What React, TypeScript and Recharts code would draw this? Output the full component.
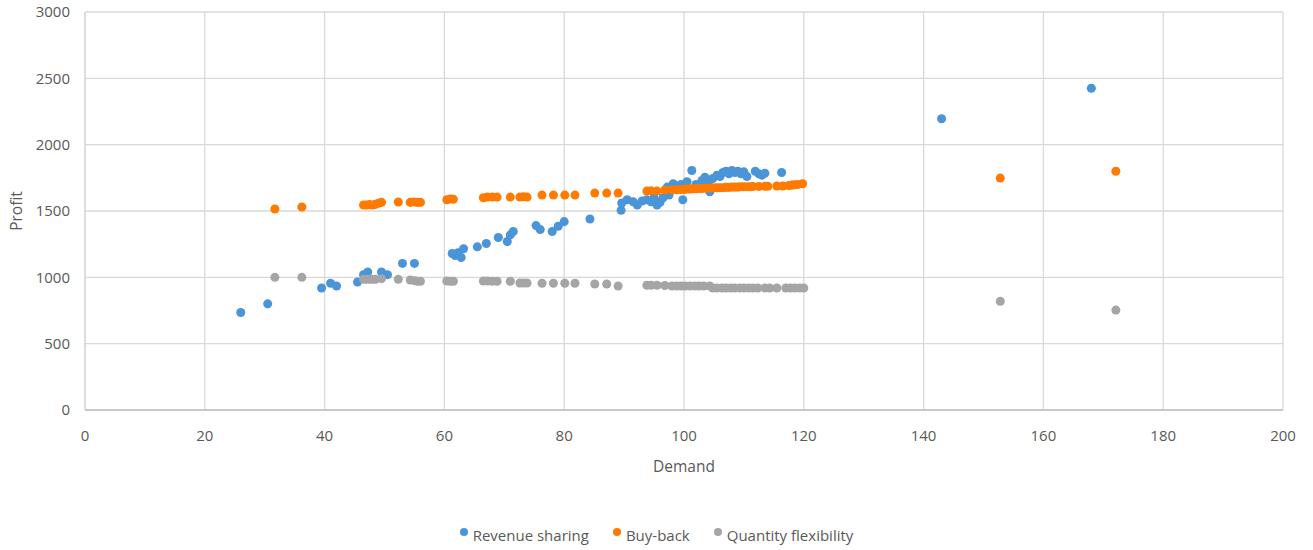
import React from 'react';
import { ScatterChart, Scatter, XAxis, YAxis, ZAxis, CartesianGrid, Label } from 'recharts';

const xTicks = [0, 20, 40, 60, 80, 100, 120, 140, 160, 180, 200];
const yTicks = [0, 500, 1000, 1500, 2000, 2500, 3000];

const revenueSharing: [number, number][] = [
  [26, 735], [30.5, 800], [39.5, 920], [41, 955], [42, 935], [45.5, 965], [46.5, 1020], [47.2, 1040],
  [49.5, 1040], [50.5, 1020], [53, 1105], [55, 1105], [61.3, 1180], [61.8, 1165], [62.3, 1185],
  [62.8, 1150], [63.2, 1215], [65.5, 1230], [67, 1255], [69, 1300], [70.5, 1270], [71, 1320],
  [71.5, 1345], [75.3, 1390], [76, 1360], [78, 1345], [79, 1385], [80, 1420], [84.3, 1440],
  [89.5, 1505], [89.6, 1560], [90.5, 1585], [91.5, 1570], [92.2, 1545], [93, 1575], [93.8, 1585],
  [94.5, 1570], [95, 1600], [95.5, 1545], [96, 1565], [96.5, 1600], [97.2, 1680], [97.5, 1620],
  [98.2, 1705], [98.8, 1680], [99.5, 1700], [99.8, 1585], [100.5, 1720], [101.3, 1805], [102, 1700],
  [103, 1730], [103.5, 1755], [104, 1710], [104.3, 1645], [104.8, 1745], [105.5, 1770], [106, 1760],
  [106.5, 1790], [107, 1800], [107.5, 1780], [108, 1805], [108.5, 1790], [109, 1800], [109.5, 1780],
  [110, 1795], [110.5, 1760], [111.9, 1800], [112.5, 1780], [113, 1770], [113.5, 1785], [116.3, 1790],
  [143, 2195], [168, 2425],
];

const buyBack: [number, number][] = [
  [31.7, 1515], [36.2, 1530], [46.5, 1545], [47, 1545], [47.5, 1548], [48, 1545], [48.5, 1550],
  [49, 1558], [49.5, 1565], [52.3, 1568], [54.3, 1565], [55, 1568], [55.5, 1565], [56, 1565],
  [60.4, 1585], [61, 1590], [61.5, 1588], [66.5, 1600], [67.2, 1605], [68, 1605], [68.8, 1605],
  [71, 1605], [72.6, 1605], [73.2, 1608], [73.8, 1605], [76.3, 1620], [78.2, 1620], [80.1, 1620],
  [81.8, 1620], [85.1, 1635], [87.1, 1635], [89, 1635], [93.8, 1650], [94.5, 1652], [95.5, 1650],
  [96.8, 1658], [98, 1660], [98.8, 1660], [99.5, 1662], [100, 1662], [100.5, 1665], [101, 1665],
  [101.5, 1668], [102, 1668], [102.5, 1670], [103, 1670], [103.5, 1672], [104, 1672], [104.5, 1674],
  [105, 1675], [105.5, 1675], [106, 1676], [106.5, 1676], [107, 1678], [107.5, 1678], [108, 1680],
  [108.5, 1680], [109, 1680], [109.5, 1682], [110, 1682], [110.5, 1683], [111, 1683], [111.5, 1684],
  [112.5, 1685], [113.5, 1686], [114, 1686], [115.5, 1688], [116.5, 1688], [117.5, 1692], [118, 1695],
  [118.5, 1698], [119, 1700], [119.8, 1705], [152.8, 1748], [172.1, 1800],
];

const quantityFlexibility: [number, number][] = [
  [31.7, 1000], [36.2, 1000], [46.5, 985], [47, 985], [47.5, 985], [48, 985], [48.5, 985],
  [49.5, 990], [52.3, 985], [54.3, 980], [55, 975], [55.5, 970], [56, 970], [60.4, 972], [61, 970],
  [61.5, 970], [66.5, 972], [67.2, 972], [68, 970], [68.8, 970], [71, 970], [72.6, 957], [73.2, 957],
  [73.8, 957], [76.3, 955], [78.2, 955], [80.1, 955], [81.8, 955], [85.1, 950], [87.1, 950],
  [89, 935], [93.8, 940], [94.5, 940], [95.5, 940], [96.8, 938], [98, 935], [98.8, 935], [99.5, 935],
  [100.2, 935], [101, 935], [101.8, 935], [102.5, 935], [103.3, 935], [104.3, 935], [104.8, 920],
  [105.5, 920], [106.3, 920], [107, 920], [107.8, 920], [108.5, 920], [109.3, 920], [110, 920],
  [110.8, 920], [111.5, 920], [112.3, 920], [113.5, 920], [114.3, 920], [115.5, 920], [117, 920],
  [117.8, 920], [118.5, 920], [119.3, 920], [120, 920], [152.8, 820], [172.1, 753],
];

const seriesNames = ['Revenue sharing', 'Buy-back', 'Quantity flexibility'];
const seriesColors = ['#4A94D8', '#FF7A00', '#A5A5A5'];
const seriesData = [revenueSharing, buyBack, quantityFlexibility];

const FONT = '"Open Sans", "Liberation Sans", sans-serif';
const TEXT = '#595959';

const toPoints = (arr: [number, number][]) => arr.map(([x, y]) => ({ x, y }));

export default function App() {
  return (
    <div style={{ position: 'absolute', left: 0, top: 0, width: 1313, height: 550, background: '#fff', fontFamily: FONT }}>
      <ScatterChart width={1313} height={550} margin={{ top: 12, right: 30, left: 0, bottom: 70 }}>
        <CartesianGrid stroke="#d9d9d9" strokeWidth={1.3} />
        <XAxis
          type="number"
          dataKey="x"
          domain={[0, 200]}
          ticks={xTicks}
          tickLine={false}
          tickSize={0}
          tickMargin={20}
          height={70}
          axisLine={{ stroke: '#c8c8c8', strokeWidth: 2 }}
          tick={{ fontFamily: FONT, fontSize: 15, fill: TEXT }}
        >
          <Label value="Demand" position="insideBottom" offset={8} style={{ fontFamily: FONT, fontSize: 15.5, fill: TEXT }} />
        </XAxis>
        <YAxis
          type="number"
          dataKey="y"
          domain={[0, 3000]}
          ticks={yTicks}
          tickLine={false}
          tickSize={0}
          tickMargin={15}
          width={85}
          axisLine={{ stroke: '#d9d9d9', strokeWidth: 1.3 }}
          tick={{ fontFamily: FONT, fontSize: 15, fill: TEXT }}
          label={(props: any) => {
            const vb = props.viewBox || {};
            const cy = (vb.y ?? 12) + (vb.height ?? 398) / 2;
            const cx = 18;
            return (
              <text x={cx} y={cy} transform={`rotate(-90 ${cx} ${cy})`} textAnchor="middle" dominantBaseline="middle"
                style={{ fontFamily: FONT, fontSize: 15.5, fill: TEXT }}>Profit</text>
            );
          }}
        />
        <ZAxis type="number" range={[100, 100]} />
        {seriesData.map((d, i) => (
          <Scatter key={seriesNames[i]} name={seriesNames[i]} data={toPoints(d)} fill={seriesColors[i]} isAnimationActive={false} />
        ))}
      </ScatterChart>
      <div style={{ position: 'absolute', top: 525, left: 0, width: 1313, display: 'flex', justifyContent: 'center', fontSize: 15, color: TEXT, fontFamily: FONT }}>
        {seriesNames.map((n, i) => (
          <div key={n} style={{ display: 'flex', alignItems: 'center', marginLeft: i ? 24 : 0 }}>
            <span style={{ width: 8, height: 8, borderRadius: 4, background: seriesColors[i], display: 'inline-block', marginRight: 5, marginTop: -6 }} />
            <span>{n}</span>
          </div>
        ))}
      </div>
    </div>
  );
}
